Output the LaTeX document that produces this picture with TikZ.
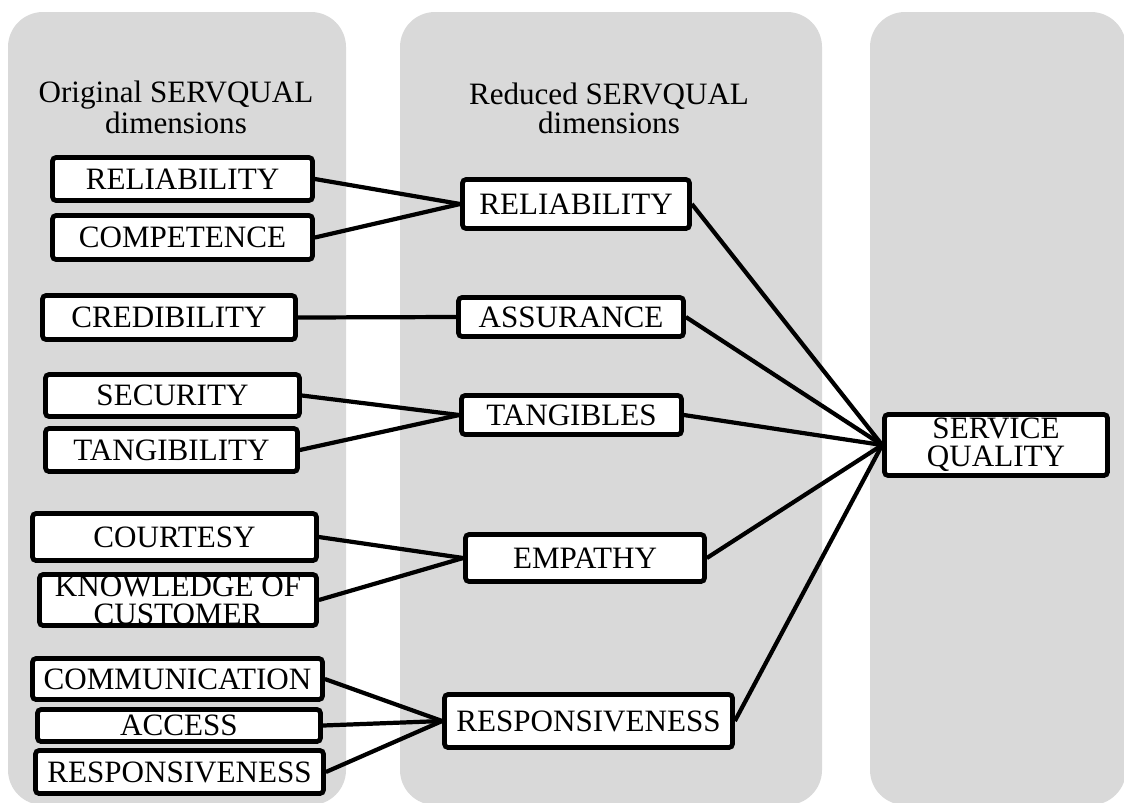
\documentclass[tikz,border=0pt]{standalone}
\usepackage{fontspec}
\setmainfont{Liberation Serif}
\begin{document}
\begin{tikzpicture}
			[x=0.02cm,y=-0.02cm,
			panel/.style={fill=black!15,draw=none,rounded corners=0.7cm},
			box/.style={draw,fill=white,line width=2.7pt,rounded corners=2pt,inner sep=0pt,align=center,font=\fontsize{17.7}{16}\selectfont},
			head/.style={align=center,inner sep=0pt,font=\fontsize{17.7}{16}\selectfont},
			link/.style={line width=2.4pt}]
			\useasboundingbox(0,0)rectangle(1124,802);
			\fill[panel](8,12)rectangle(346,805);
			\fill[panel](400,12)rectangle(822,805);
			\fill[panel](870,12)rectangle(1126,805);
			\node[head,name=h1,anchor=base]at(176,133){Original SERVQUAL\\dimensions};
			\node[head,name=h2,anchor=base]at(609,133){Reduced SERVQUAL\\dimensions};
			% original dimensions
			\node[box,name=rel1,minimum width=5.2cm,minimum height=0.86cm]at(182.5,179){RELIABILITY};
			\node[box,name=comp,minimum width=5.2cm,minimum height=0.88cm]at(182.5,237.5){COMPETENCE};
			\node[box,name=cred,minimum width=5.06cm,minimum height=0.88cm]at(169,317.5){CREDIBILITY};
			\node[box,name=secu,minimum width=5.08cm,minimum height=0.84cm]at(172.5,395.5){SECURITY};
			\node[box,name=tang,minimum width=5.04cm,minimum height=0.86cm]at(171.5,450){TANGIBILITY};
			\node[box,name=cour,minimum width=5.68cm,minimum height=0.94cm]at(174.5,537){COURTESY};
			\node[box,name=know,minimum width=5.54cm,minimum height=1.02cm]at(178,600){KNOWLEDGE OF\\CUSTOMER};
			\node[box,name=comm,minimum width=5.8cm,minimum height=0.82cm]at(177.5,679){COMMUNICATION};
			\node[box,name=acce,minimum width=5.66cm,minimum height=0.64cm]at(179,725.5){ACCESS};
			\node[box,name=resp1,minimum width=5.76cm,minimum height=0.86cm]at(179.5,772){RESPONSIVENESS};
			% reduced dimensions
			\node[box,name=rel2,minimum width=4.54cm,minimum height=0.98cm]at(576,204){RELIABILITY};
			\node[box,name=assu,minimum width=4.5cm,minimum height=0.78cm]at(571,317){ASSURANCE};
			\node[box,name=tgbl,minimum width=4.4cm,minimum height=0.78cm]at(571.5,415){TANGIBLES};
			\node[box,name=empa,minimum width=4.78cm,minimum height=0.94cm]at(585,558){EMPATHY};
			\node[box,name=resp2,minimum width=5.76cm,minimum height=1.06cm]at(588.5,721){RESPONSIVENESS};
			\node[box,name=sq,minimum width=4.46cm,minimum height=1.22cm]at(996,445){SERVICE\\QUALITY};
			\draw[link](rel1.east)--(rel2.west);
			\draw[link](comp.east)--(rel2.west);
			\draw[link](cred.east)--(assu.west);
			\draw[link](secu.east)--(tgbl.west);
			\draw[link](tang.east)--(tgbl.west);
			\draw[link](cour.east)--(empa.west);
			\draw[link](know.east)--(empa.west);
			\draw[link](comm.east)--(resp2.west);
			\draw[link](acce.east)--(resp2.west);
			\draw[link](resp1.east)--(resp2.west);
			\draw[link](rel2.east)--(sq.west);
			\draw[link](assu.east)--(sq.west);
			\draw[link](tgbl.east)--(sq.west);
			\draw[link](empa.east)--(sq.west);
			\draw[link](resp2.east)--(sq.west);
		\end{tikzpicture}
\end{document}
